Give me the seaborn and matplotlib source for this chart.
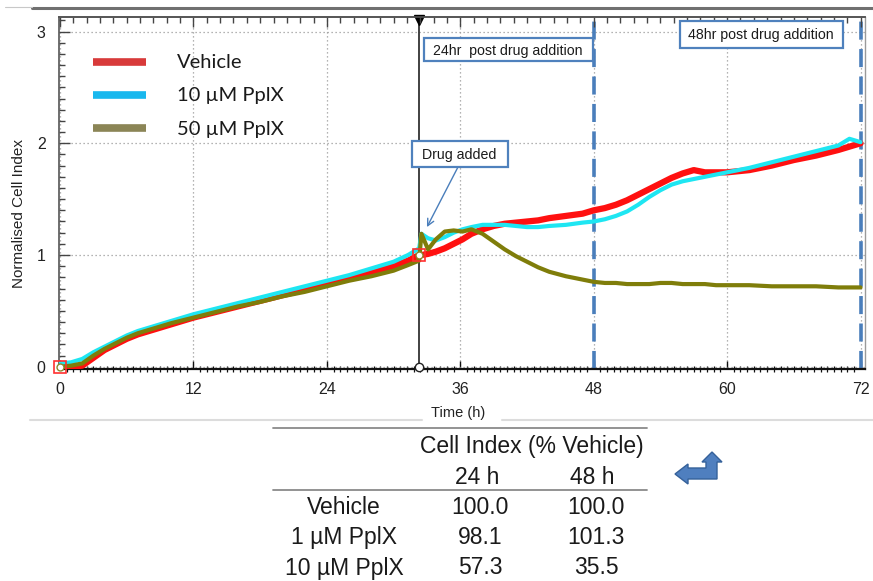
import matplotlib
matplotlib.use("Agg")
import matplotlib.pyplot as plt
from matplotlib.patches import Rectangle, Polygon
from matplotlib.lines import Line2D
from matplotlib.ticker import MultipleLocator
import pandas as pd
import seaborn as sns

# ---- time course (hours) and normalised cell index for each treatment ----
hours = [0, 1, 2, 3, 4, 5, 6, 7, 8, 10, 12, 14, 16, 18, 20, 22, 24, 26, 28, 30, 31.3, 32.3,
         32.5, 33.1, 33.8, 34.6, 35.4, 36.2, 37.0, 38, 39, 40, 41, 42, 43, 44,
         45.5, 47, 48, 49, 50, 51, 52, 53, 54, 55, 56, 57, 58, 59,
         60, 62, 64, 66, 68, 70, 71, 72]

vehicle = [0.00, 0.00, 0.01, 0.08, 0.15, 0.20, 0.25, 0.29, 0.32, 0.38, 0.44, 0.49, 0.54, 0.59,
           0.64, 0.69, 0.74, 0.79, 0.84, 0.90, 0.95, 1.00,
           1.00, 1.01, 1.03, 1.06, 1.10, 1.14, 1.19, 1.23, 1.26, 1.28, 1.29, 1.30, 1.31, 1.33,
           1.35, 1.37, 1.40, 1.42, 1.45, 1.49, 1.54, 1.59, 1.64, 1.69, 1.73, 1.76, 1.74, 1.74,
           1.74, 1.76, 1.80, 1.85, 1.89, 1.94, 1.97, 2.00]

ppix_10 = [0.03, 0.04, 0.07, 0.13, 0.18, 0.23, 0.28, 0.32, 0.35, 0.41, 0.47, 0.52, 0.57, 0.62,
           0.67, 0.72, 0.77, 0.82, 0.88, 0.94, 1.00, 1.06,
           1.19, 1.15, 1.13, 1.16, 1.20, 1.23, 1.25, 1.27, 1.27, 1.27, 1.26, 1.25, 1.25, 1.26,
           1.27, 1.29, 1.30, 1.32, 1.35, 1.39, 1.45, 1.52, 1.58, 1.63, 1.66, 1.68, 1.70, 1.72,
           1.74, 1.78, 1.83, 1.88, 1.93, 1.98, 2.04, 2.01]

ppix_50 = [0.00, 0.01, 0.03, 0.10, 0.16, 0.21, 0.26, 0.30, 0.33, 0.39, 0.44, 0.49, 0.54, 0.58,
           0.63, 0.67, 0.72, 0.77, 0.81, 0.86, 0.91, 0.95,
           1.19, 1.05, 1.14, 1.21, 1.22, 1.21, 1.23, 1.19, 1.12, 1.05, 0.99, 0.94, 0.89, 0.85,
           0.81, 0.78, 0.76, 0.75, 0.75, 0.74, 0.74, 0.74, 0.75, 0.75, 0.74, 0.74, 0.74, 0.73,
           0.73, 0.73, 0.72, 0.72, 0.72, 0.71, 0.71, 0.71]

series_names = ["Vehicle", "10 \u00b5M PplX", "50 \u00b5M PplX"]
drug_hour = 32.3
x_ticks = [0, 12, 24, 36, 48, 60, 72]
y_ticks = [0, 1, 2, 3]

# ---- summary table ----
table_header = "Cell Index (% Vehicle)"
table_cols = ["24 h", "48 h"]
table_rows = ["Vehicle", "1 \u00b5M PplX", "10 \u00b5M PplX"]
table_24h = ["100.0", "98.1", "57.3"]
table_48h = ["100.0", "101.3", "35.5"]

df = pd.DataFrame({"Time (h)": hours, series_names[0]: vehicle,
                   series_names[1]: ppix_10, series_names[2]: ppix_50})
long_df = df.melt(id_vars="Time (h)", var_name="Treatment", value_name="Cell Index")

sns.set_style("white")
plt.rcParams["font.family"] = ["Liberation Sans", "DejaVu Sans"]

W, H = 873.0, 581.0


def fp(px, py):
    return px / W, 1 - py / H


fig = plt.figure(figsize=(W / 100, H / 100), dpi=100)
ax = fig.add_axes([59.5 / W, 1 - 369 / H, 805.5 / W, 352 / H])
ax.set_xlim(-0.05, 72.4)
ax.set_ylim(-0.02, 3.13)

styles = {
    series_names[0]: dict(color="#ff1010", lw=4.5, z=3),
    series_names[1]: dict(color="#1ee6f2", lw=3.0, z=4),
    series_names[2]: dict(color="#7f7d0a", lw=3.0, z=5),
}
for name in series_names:
    st = styles[name]
    sub = long_df[long_df["Treatment"] == name]
    sns.lineplot(data=sub, x="Time (h)", y="Cell Index", ax=ax, color=st["color"],
                 linewidth=st["lw"], legend=False, zorder=st["z"])

# normalisation point / drug addition markers
veh_at_drug = vehicle[hours.index(drug_hour)]
ax.plot([0], [vehicle[0]], marker="s", ms=8, mfc="none", mec="#ff3030", mew=1.2, zorder=6, clip_on=False)
ax.plot([0], [vehicle[0]], marker="o", ms=5, mfc="white", mec="#8a8a30", mew=1, zorder=7, clip_on=False)
ax.plot([drug_hour], [veh_at_drug], marker="s", ms=8, mfc="none", mec="#ff3030", mew=1.2, zorder=6)
ax.plot([drug_hour], [veh_at_drug], marker="o", ms=5, mfc="white", mec="#8a8a30", mew=1, zorder=7)
ax.plot([drug_hour], [0], marker="o", ms=6, mfc="white", mec="#222222", mew=1, zorder=7, clip_on=False)

# drug addition line and post-addition time points
ax.axvline(drug_hour, color="#333333", lw=1.3, zorder=2)
ax.plot([drug_hour], [3.10], marker="v", ms=7, color="black", zorder=8, clip_on=False)
for h in (48, 72):
    ax.axvline(h, color="#4a7ebb", lw=2.6, dashes=(5, 2.6), zorder=2)

# grid, ticks, spines
ax.set_xticks(x_ticks)
ax.set_yticks(y_ticks)
ax.set_xticklabels([str(v) for v in x_ticks])
ax.set_yticklabels([str(v) for v in y_ticks])
ax.grid(True, which="major", color="#9a9a9a", linestyle=(0, (1, 2.2)), linewidth=0.9)
ax.set_axisbelow(True)
ax.xaxis.set_minor_locator(MultipleLocator(0.6))
ax.yaxis.set_minor_locator(MultipleLocator(0.1))
ax.tick_params(axis="y", which="major", direction="in", length=8, width=1, color="#444444",
               pad=10, labelsize=11.5, labelcolor="#222222", left=True)
ax.tick_params(axis="y", which="minor", direction="in", length=4, width=1, color="#444444", left=True)
ax.tick_params(axis="x", which="major", direction="in", length=6, width=1, color="#111111",
               pad=9, labelsize=11.5, labelcolor="#222222", bottom=True)
ax.tick_params(axis="x", which="minor", direction="inout", length=4, width=0.9, color="#111111",
               bottom=True)
ax.set_xlabel("")
ax.set_ylabel("")
for side, col, lw in (("left", "#555555", 1.2), ("top", "#555555", 1.2),
                      ("right", "#9a9a9a", 1.0), ("bottom", "#111111", 1.6)):
    ax.spines[side].set_color(col)
    ax.spines[side].set_linewidth(lw)
    ax.spines[side].set_visible(True)

top = ax.twiny()
top.set_xlim(ax.get_xlim())
top.set_xticks(x_ticks)
top.set_xticklabels([])
top.xaxis.set_minor_locator(MultipleLocator(1.2))
top.tick_params(axis="x", which="major", direction="in", length=7, width=1, color="#444444")
top.tick_params(axis="x", which="minor", direction="in", length=4, width=1, color="#444444")
for side in ("left", "right", "bottom"):
    top.spines[side].set_visible(False)
top.spines["top"].set_color("#555555")
top.spines["top"].set_linewidth(1.2)
top.grid(False)

# axis titles
fig.text(*fp(19, 213), "Normalised Cell Index", rotation=90, ha="center", va="center",
         fontsize=11, color="#222222")
fig.text(*fp(458, 413), "Time (h)", ha="center", va="center", fontsize=10.5, color="#222222")

# legend
leg_colors = ["#d83a3a", "#19b8ee", "#8b8556"]
for name, col, y in zip(series_names, leg_colors, (62, 95, 128)):
    fig.add_artist(Line2D([93 / W, 146 / W], [1 - y / H, 1 - y / H], color=col, lw=5.5,
                          solid_capstyle="butt"))
    fig.text(*fp(177, y + 1), name, ha="left", va="center", fontsize=14.5,
             family=["Lato", "DejaVu Sans"], color="#1a1a1a")


# callout boxes
def callout(x0, y0, x1, y1, text, tx, ty):
    fig.add_artist(Rectangle((x0 / W, 1 - y1 / H), (x1 - x0) / W, (y1 - y0) / H,
                             transform=fig.transFigure, facecolor="white",
                             edgecolor="#4f81bd", lw=1.6, zorder=10))
    fig.text(*fp(tx, ty), text, ha="center", va="center", fontsize=10.2,
             color="#1a1a1a", zorder=11)


callout(424, 38, 593, 61, "24hr  post drug addition", 508, 51)
callout(680, 21, 843, 48, "48hr post drug addition", 761, 35)
callout(412, 141, 508, 167, "Drug added", 459, 155)
ax.annotate("", xy=(33.0, 1.25), xycoords="data", xytext=fp(458, 167),
            textcoords="figure fraction",
            arrowprops=dict(arrowstyle="->", color="#4a7ebb", lw=1.0, shrinkA=0, shrinkB=0,
                            mutation_scale=12), zorder=9)

# page rules
fig.add_artist(Line2D([32 / W, 1.0], [1 - 8 / H, 1 - 8 / H], color="#707070", lw=2.2))
fig.add_artist(Line2D([5 / W, 32 / W], [1 - 7 / H, 1 - 7 / H], color="#c8c8c8", lw=0.8))
fig.add_artist(Line2D([30 / W, 422 / W], [1 - 420 / H, 1 - 420 / H], color="#dcdcdc", lw=1.5))
fig.add_artist(Line2D([502 / W, 1.0], [1 - 420 / H, 1 - 420 / H], color="#dcdcdc", lw=1.5))

# table
fig.add_artist(Line2D([273 / W, 647 / W], [1 - 428 / H, 1 - 428 / H], color="#8a8a8a", lw=1.3))
fig.add_artist(Line2D([273 / W, 647 / W], [1 - 490 / H, 1 - 490 / H], color="#8a8a8a", lw=1.3))
tkw = dict(ha="center", va="center", fontsize=16.5, color="#1a1a1a")
fig.text(*fp(532, 446), table_header, **tkw)
fig.text(*fp(477, 477), table_cols[0], **tkw)
fig.text(*fp(592, 477), table_cols[1], **tkw)
for i, (r, a, b) in enumerate(zip(table_rows, table_24h, table_48h)):
    y = 507 + i * 30.5
    fig.text(*fp(344, y), r, **tkw)
    fig.text(*fp(480, y), a, **tkw)
    fig.text(*fp(596, y), b, **tkw)

# bent return arrow icon
arrow_px = [(675, 474), (688, 464), (688, 468), (706, 468), (706, 462), (702, 462),
            (712, 452), (722, 462), (717, 462), (717, 479), (688, 479), (688, 484)]
fig.add_artist(Polygon([fp(x, y) for x, y in arrow_px], closed=True, transform=fig.transFigure,
                       facecolor="#4f7fbf", edgecolor="#35619a", lw=1.0))

fig.savefig("out.png", dpi=100)
